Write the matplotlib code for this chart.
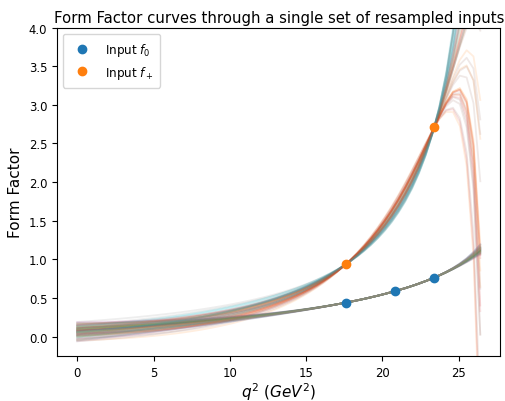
import numpy as np
import matplotlib
matplotlib.use("Agg")
import matplotlib.pyplot as plt

# ---- input points (one resampled set) ----
q2_f0 = [17.6, 20.85, 23.4]
f0_vals = [0.44, 0.59, 0.764]
q2_fp = [17.6, 23.4]
fp_vals = [0.936, 2.71]

# ---- per-curve parameters: shared f(0) value and f+ higher-order z coefficient ----
f_zero = [0.05, 0.11, -0.02, 0.08, 0.14, 0.03, 0.17, 0.06, 0.00, 0.10,
          0.12, -0.04, 0.07, 0.15, 0.02, 0.09, 0.04, 0.18, 0.06, -0.01,
          0.13, 0.08, 0.01, 0.11, 0.05, -0.05, 0.16, 0.07, 0.03, 0.10,
          0.09, 0.02, 0.12, -0.03, 0.06, 0.14, 0.04, 0.08, 0.19, 0.00,
          0.07, 0.11, -0.06, 0.05, 0.13, 0.01, 0.09, 0.15, 0.03, 0.06]
fp_b3 = [14, 7, 16, -3, 2,
         9.5, 17, 5, 1, -5,
         15, 4, 11.5, -2, 3,
         6, 13, 18, 0, -6,
         10.5, 3, 14.5, 4, -1,
         16.5, 8, 6.5, -4, 2,
         4.5, 12.5, 15.5, 1, -2,
         8.5, 18, 10, -1, 5,
         13.5, 2, 7.5, 3, -3,
         12, 15.5, 9, -5, 0]

# ---- kinematics for z-expansion ----
mB, mpi, mBstar = 5.27934, 0.13957, 5.32465
tp = (mB + mpi) ** 2
tm = (mB - mpi) ** 2
t0 = tp - np.sqrt(tp) * np.sqrt(tp - tm)


def zf(q2):
    q2 = np.asarray(q2, dtype=float)
    a = np.sqrt(tp - q2)
    b = np.sqrt(tp - t0)
    return (a - b) / (a + b)


q2 = np.linspace(0, tm, 60)
zz = zf(q2)

fig = plt.figure(figsize=(5.05, 4.02), dpi=100)
ax = fig.add_axes([0.113, 0.112, 0.878, 0.817])

for c, d in zip(f_zero, fp_b3):
    # f0: cubic in z through f(0) and the three f0 inputs
    zs = zf([0.0] + q2_f0)
    A = np.vander(zs, 4, increasing=True)
    a = np.linalg.solve(A, np.array([c] + f0_vals))
    f0_curve = np.vander(zz, 4, increasing=True) @ a
    # f+: pole times cubic in z
    qp = np.array([0.0] + q2_fp)
    zp = zf(qp)
    pole = 1.0 / (1.0 - qp / mBstar ** 2)
    rhs = np.array([c] + fp_vals) / pole - d * zp ** 3
    b = np.linalg.solve(np.vander(zp, 3, increasing=True), rhs)
    fp_curve = (b[0] + b[1] * zz + b[2] * zz ** 2 + d * zz ** 3) / (1 - q2 / mBstar ** 2)
    ax.plot(q2, f0_curve, alpha=0.13, lw=1.3)
    ax.plot(q2, fp_curve, alpha=0.13, lw=1.3)

ax.plot(q2_f0, f0_vals, 'o', color='C0', ms=6, label=r'Input $f_0$', zorder=5)
ax.plot(q2_fp, fp_vals, 'o', color='C1', ms=6, label=r'Input $f_+$', zorder=5)

ax.set_ylim(-0.25, 4.0)
ax.tick_params(labelsize=8.4)
ax.set_title('Form Factor curves through a single set of resampled inputs', fontsize=10.7, pad=4)
ax.set_ylabel('Form Factor', fontsize=11)
ax.set_xlabel(r'$q^2$ $(GeV^2)$', fontsize=11, labelpad=1)
ax.legend(loc='upper left', fontsize=8.6, borderpad=0.6, handletextpad=0.9)

fig.savefig('out.png', dpi=100)
